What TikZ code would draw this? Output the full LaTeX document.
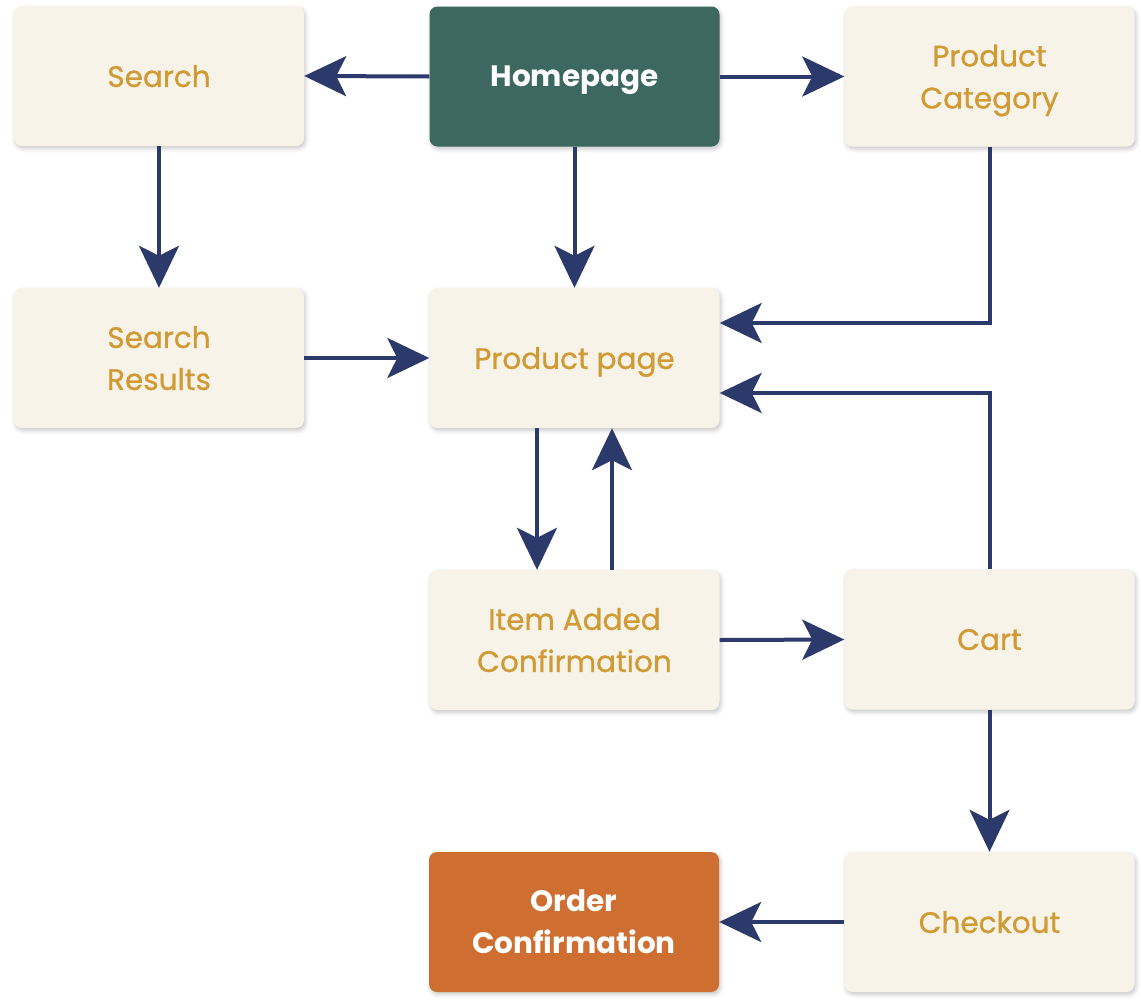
\documentclass[tikz,border=0pt]{standalone}
\usepackage{fontspec}
\setmainfont{Poppins}[UprightFeatures={FakeBold=0.9}]
\usetikzlibrary{arrows.meta,shadows.blur}
\definecolor{boxfill}{HTML}{F8F3E8}
\definecolor{boxtext}{HTML}{D09A35}
\definecolor{homefill}{HTML}{3D6860}
\definecolor{orderfill}{HTML}{CE6E30}
\definecolor{arrowc}{HTML}{2B3A6B}
\begin{document}
\begin{tikzpicture}[x=1pt,y=-1pt,
  box/.style={rectangle, rounded corners=8pt, minimum width=290pt, minimum height=140pt,
    fill=boxfill, text=boxtext, align=center, inner sep=0pt, text depth=0pt,
    font=\fontsize{29.5}{42}\selectfont,
    blur shadow={shadow xshift=1.5pt, shadow yshift=-2.5pt, shadow blur radius=4pt, shadow opacity=22}},
  darkbox/.style={box, text=white, font=\fontsize{29.5}{42}\selectfont\bfseries},
  arr/.style={draw=arrowc, line width=4pt, -{Stealth[length=42pt,width=40pt,inset=10pt]}}]
\useasboundingbox (0,0) rectangle (1141,1007);
\node[box] (search) at (159,76) {Search};
\node[darkbox, fill=homefill] (home) at (574.5,76.5) {Homepage};
\node[box] (cat) at (989.5,76.5) {Product\\Category};
\node[box] (results) at (159,358) {Search\\Results};
\node[box] (prod) at (574.5,358) {Product page};
\node[box] (item) at (574.5,640) {Item Added\\Confirmation};
\node[box] (cart) at (989.5,639.5) {Cart};
\node[darkbox, fill=orderfill] (order) at (574,922) {Order\\Confirmation};
\node[box] (checkout) at (989.5,922) {Checkout};

\draw[arr] (home.west) -- (search.east);
\draw[arr] (home.east) -- (cat.west);
\draw[arr] (search.south) -- (results.north);
\draw[arr] (home.south) -- (prod.north);
\draw[arr] (cat.south) |- ([yshift=35pt]prod.east);
\draw[arr] (results.east) -- (prod.west);
\draw[arr] ([xshift=-37.5pt]prod.south) -- ([xshift=-37.5pt]item.north);
\draw[arr] ([xshift=37.5pt]item.north) -- ([xshift=37.5pt]prod.south);
\draw[arr] (cart.north) |- ([yshift=-35pt]prod.east);
\draw[arr] (item.east) -- (cart.west);
\draw[arr] (cart.south) -- (checkout.north);
\draw[arr] (checkout.west) -- (order.east);
\end{tikzpicture}
\end{document}
